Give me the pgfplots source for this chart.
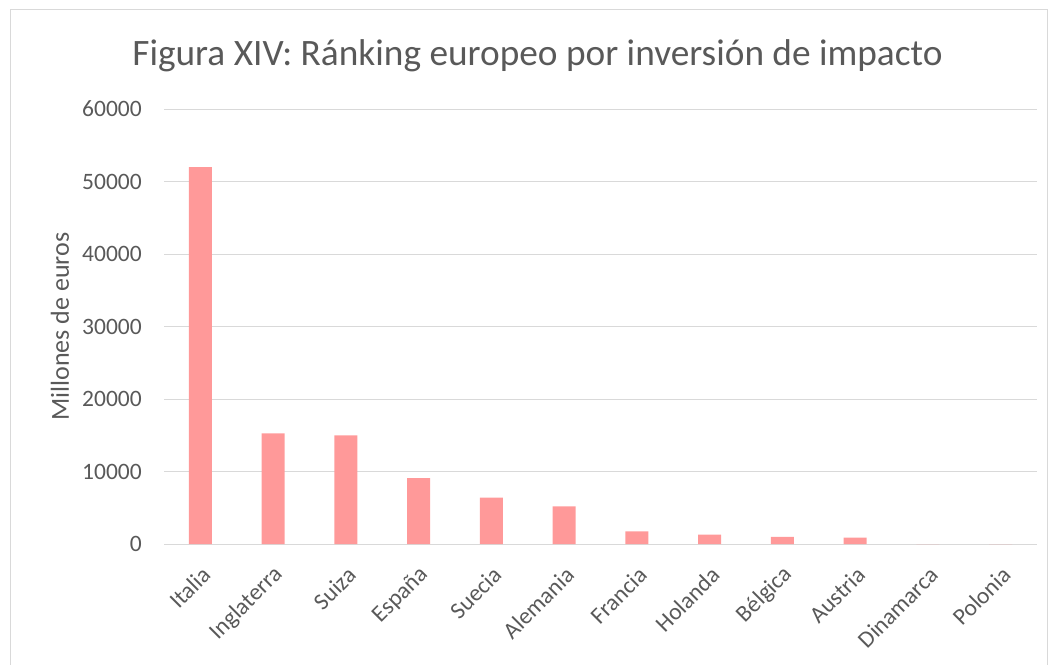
\documentclass[border=0pt]{standalone}
\usepackage{fontspec}
\setmainfont{Carlito}
\usepackage{pgfplots}
\pgfplotsset{compat=1.18}
\definecolor{barpink}{HTML}{FF9999}
\definecolor{gridgray}{HTML}{D9D9D9}
\definecolor{txtgray}{HTML}{595959}
\begin{document}
\begin{tikzpicture}
\useasboundingbox (0pt,0pt) rectangle (1052pt,664pt);
\draw[gridgray, line width=1pt] (10pt,-10pt) rectangle (1047.5pt,654.5pt);
\node[txtgray, font=\fontsize{37.3}{44}\selectfont, inner sep=0pt] at (537.5pt,608pt) {Figura XIV: Ránking europeo por inversión de impacto};
\begin{axis}[
  at={(164pt,120pt)}, anchor=south west,
  scale only axis, width=873pt, height=435pt,
  xmin=-0.5, xmax=11.5, ymin=0, ymax=60000,
  ybar, bar width=23pt,
  ytick={0,10000,20000,30000,40000,50000,60000},
  scaled y ticks=false,
  xtick=data,
  xticklabels={Italia,Inglaterra,Suiza,España,Suecia,Alemania,Francia,Holanda,Bélgica,Austria,Dinamarca,Polonia},
  major tick length=0pt,
  axis line style={draw=none},
  ymajorgrids, grid style={gridgray, line width=1pt},
  /pgf/number format/1000 sep={},
  /pgf/number format/assume math mode=true,
  tick label style={txtgray, font=\fontsize{23.5}{28}\selectfont},
  yticklabel style={inner sep=0pt, anchor=east, xshift=-22pt},
  xticklabel style={inner sep=0pt, xshift=6pt, yshift=-27pt, anchor=east, rotate=45},
  ylabel={Millones de euros},
  ylabel style={txtgray, font=\fontsize{26}{30}\selectfont, at={(axis description cs:0,0.5)}, anchor=center, yshift=104pt, inner sep=0pt},
]
\addplot[fill=barpink, draw=none] coordinates {
(0,52000) (1,15250) (2,15000) (3,9100) (4,6400) (5,5200)
(6,1750) (7,1300) (8,1000) (9,880) (10,0) (11,0)};
\end{axis}
\end{tikzpicture}
\end{document}
